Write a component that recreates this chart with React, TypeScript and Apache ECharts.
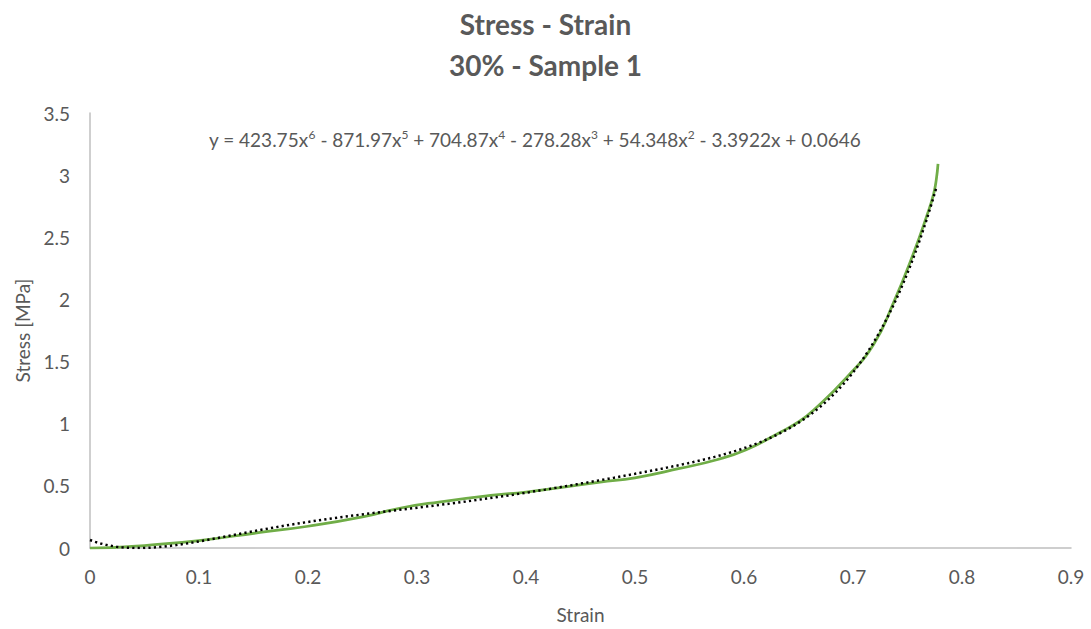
import React, { useEffect, useRef } from "react";
import * as echarts from "echarts";

// Measured stress-strain curve (strain, stress in MPa)
const strain = [
  0, 0.02, 0.05, 0.1, 0.156, 0.2, 0.25, 0.284, 0.32, 0.37, 0.4, 0.468, 0.5,
  0.541, 0.575, 0.602, 0.633, 0.651, 0.664, 0.694, 0.719, 0.737, 0.755, 0.768,
  0.774, 0.7765, 0.778,
];
const stress = [
  0, 0.003, 0.02, 0.06, 0.125, 0.175, 0.25, 0.32, 0.37, 0.425, 0.45, 0.53,
  0.565, 0.64, 0.71, 0.79, 0.93, 1.02, 1.11, 1.37, 1.64, 1.97, 2.36, 2.68, 2.85,
  2.97, 3.09,
];

// 6th-order polynomial trendline coefficients, highest power first
const trendCoefficients = [423.75, -871.97, 704.87, -278.28, 54.348, -3.3922, 0.0646];
const trendEnd = 0.7768;

const xTicks = { min: 0, max: 0.9, interval: 0.1 };
const yTicks = { min: 0, max: 3.5, interval: 0.5 };

const titleLines = ["Stress - Strain", "30% - Sample 1"];
const xName = "Strain";
const yName = "Stress [MPa]";

const evalPoly = (c: number[], x: number) => c.reduce((acc, k) => acc * x + k, 0);

export default function App() {
  const ref = useRef<HTMLDivElement>(null);

  useEffect(() => {
    if (!ref.current) return;
    const chart = echarts.init(ref.current, null, { renderer: "svg" });

    const measured = strain.map((s, i) => [s, stress[i]]);
    const trend: number[][] = [];
    const steps = 160;
    for (let i = 0; i <= steps; i++) {
      const x = (trendEnd * i) / steps;
      trend.push([x, evalPoly(trendCoefficients, x)]);
    }

    const gray = "#595959";
    const font = "Lato, 'Open Sans', sans-serif";
    const labelSize = 19;

    chart.setOption({
      animation: false,
      backgroundColor: "#ffffff",
      textStyle: { fontFamily: font },
      title: {
        text: titleLines.join("\n"),
        left: "center",
        top: 3,
        padding: 0,
        textStyle: {
          fontFamily: font,
          fontSize: 28,
          fontWeight: "bold",
          color: gray,
          lineHeight: 41,
        },
      },
      grid: { left: 90, right: 20, top: 113, bottom: 74, containLabel: false },
      xAxis: {
        type: "value",
        min: xTicks.min,
        max: xTicks.max,
        interval: xTicks.interval,
        name: xName,
        nameLocation: "middle",
        nameGap: 57,
        nameTextStyle: { fontSize: labelSize, color: gray, fontFamily: font },
        axisLine: { show: true, lineStyle: { color: "#bfbfbf", width: 1.5 } },
        axisTick: { show: false },
        splitLine: { show: false },
        axisLabel: {
          fontSize: labelSize,
          color: gray,
          margin: 19,
          fontFamily: font,
          formatter: (v: number) => String(Math.round(v * 10) / 10),
        },
      },
      yAxis: {
        type: "value",
        min: yTicks.min,
        max: yTicks.max,
        interval: yTicks.interval,
        name: yName,
        nameLocation: "middle",
        nameGap: 58,
        nameTextStyle: { fontSize: labelSize, color: gray, fontFamily: font },
        axisLine: { show: true, lineStyle: { color: "#bfbfbf", width: 1.5 } },
        axisTick: { show: false },
        splitLine: { show: false },
        axisLabel: {
          fontSize: labelSize,
          color: gray,
          margin: 20,
          fontFamily: font,
          formatter: (v: number) => String(Math.round(v * 10) / 10),
        },
      },
      graphic: [
        {
          type: "text",
          left: 209,
          top: 128,
          style: {
            text:
              "y = 423.75x{s|6} - 871.97x{s|5} + 704.87x{s|4} - 278.28x{s|3} + 54.348x{s|2} - 3.3922x + 0.0646",
            fill: gray,
            fontSize: labelSize,
            fontFamily: font,
            rich: {
              s: { fontSize: 12, fill: gray, fontFamily: font, verticalAlign: "top", lineHeight: 22 },
            },
          },
        },
      ],
      series: [
        {
          name: "Stress",
          type: "line",
          data: measured,
          smooth: 0.5,
          showSymbol: false,
          lineStyle: { color: "#70ad47", width: 2.75 },
          z: 2,
        },
        {
          name: "Poly. (Stress)",
          type: "line",
          data: trend,
          smooth: false,
          showSymbol: false,
          lineStyle: { color: "#000000", width: 2.5, type: [2.2, 3.2], cap: "butt" },
          z: 3,
        },
      ],
    });

    return () => chart.dispose();
  }, []);

  return <div ref={ref} style={{ width: 1091, height: 629, position: "absolute", left: 0, top: 0 }} />;
}
